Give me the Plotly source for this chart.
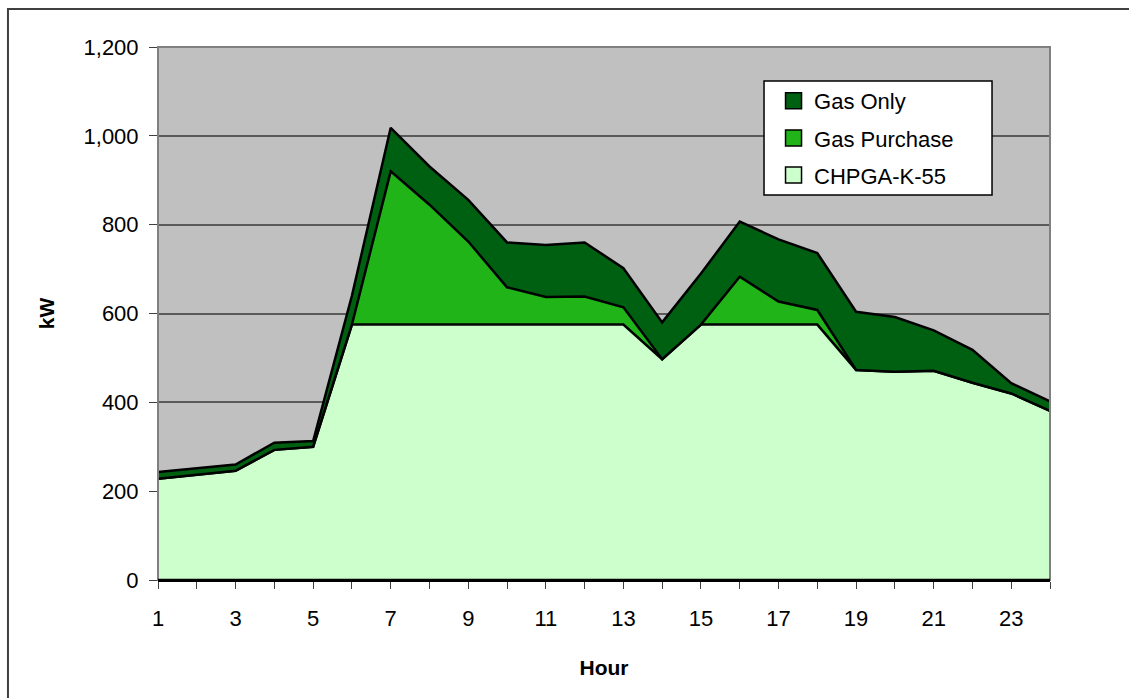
import plotly.graph_objects as go

hours = list(range(1, 25))
chpga_k55 = [228, 237, 246, 293, 300, 575, 575, 575, 575, 575, 575, 575,
             575, 497, 575, 575, 575, 575, 473, 469, 471, 444, 420, 381]
gas_purchase = [0, 0, 0, 0, 0, 0, 345, 270, 187, 84, 62, 63,
                39, 0, 0, 108, 52, 33, 0, 0, 0, 0, 0, 0]
gas_only = [15, 14, 14, 16, 13, 65, 98, 86, 94, 101, 117, 122,
            88, 83, 115, 124, 140, 128, 131, 123, 91, 74, 23, 21]

x_tick_vals = [1, 3, 5, 7, 9, 11, 13, 15, 17, 19, 21, 23]
x_tick_text = ["1", "3", "5", "7", "9", "11", "13", "15", "17", "19", "21", "23"]
y_tick_vals = [0, 200, 400, 600, 800, 1000, 1200]
y_tick_text = ["0", "200", "400", "600", "800", "1,000", "1,200"]

FONT = "Liberation Sans, Arial, sans-serif"

fig = go.Figure()
series = [
    ("CHPGA-K-55", chpga_k55, "#CCFFCC", 3),
    ("Gas Purchase", gas_purchase, "#20B418", 2),
    ("Gas Only", gas_only, "#006011", 1),
]
for name, vals, col, rank in series:
    fig.add_trace(go.Scatter(
        x=hours, y=vals, name=name, mode="lines", stackgroup="one",
        line=dict(color="black", width=2.5), fillcolor=col,
        showlegend=False, legendgroup=name, legendrank=rank,
    ))
# legend entries with square swatches
for name, vals, col, rank in series:
    fig.add_trace(go.Scatter(
        x=[None], y=[None], name=name, mode="markers", legendgroup=name,
        legendrank=rank,
        marker=dict(symbol="square", size=16, color=col,
                    line=dict(color="black", width=1.5)),
        showlegend=True,
    ))

fig.update_layout(
    width=1129, height=698,
    margin=dict(l=158, r=79, t=47, b=118),
    paper_bgcolor="white", plot_bgcolor="#C0C0C0",
    font=dict(family=FONT, size=21, color="black"),
    showlegend=True,
    legend=dict(x=0.6895, y=0.938, xanchor="left", yanchor="top",
                bgcolor="rgba(0,0,0,0)", borderwidth=0,
                traceorder="grouped", tracegroupgap=5.5,
                itemwidth=31, font=dict(size=22)),
    xaxis=dict(range=[1, 24], tickvals=x_tick_vals, ticktext=x_tick_text,
               ticks="outside", ticklen=7, tickcolor="#404040", tickwidth=1,
               ticklabelstandoff=11, tickfont=dict(size=22),
               minor=dict(dtick=1, tick0=1, ticks="outside", ticklen=7,
                          tickcolor="#404040", tickwidth=1, showgrid=False),
               showgrid=False, zeroline=False,
               showline=True, linecolor="black", linewidth=2,
               title=dict(text="<b>Hour</b>", standoff=30,
                          font=dict(size=21))),
    yaxis=dict(range=[0, 1200], tickvals=y_tick_vals, ticktext=y_tick_text,
               ticks="outside", ticklen=8, tickcolor="#404040", tickwidth=1,
               ticklabelstandoff=6, tickfont=dict(size=22),
               showgrid=True, gridcolor="#5a5a5a", gridwidth=1.5,
               zeroline=False, showline=False,
               title=dict(text="<b>kW</b>", standoff=23,
                          font=dict(size=21))),
    shapes=[
        dict(type="rect", xref="paper", yref="paper", x0=0, x1=1, y0=0, y1=1,
             line=dict(color="#808080", width=2), layer="above"),
        dict(type="line", xref="paper", yref="paper", x0=0, x1=1, y0=0, y1=0,
             line=dict(color="black", width=2.5), layer="above"),
        dict(type="rect", xref="paper", yref="paper",
             x0=-0.1682, x1=1.3, y0=-0.3, y1=1.0713,
             line=dict(color="#404040", width=2), layer="below"),
        dict(type="rect", xref="paper", yref="paper",
             x0=0.6794, x1=0.935, y0=0.7223, y1=0.9362,
             fillcolor="white", line=dict(color="black", width=1.5),
             layer="above"),
    ],
)

fig.write_html("out.html")
